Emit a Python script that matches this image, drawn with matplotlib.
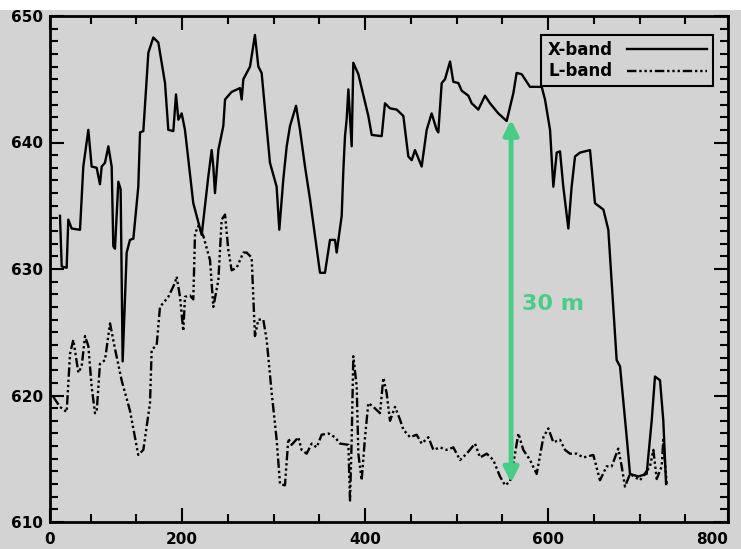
import matplotlib
matplotlib.use("Agg")
import matplotlib.pyplot as plt
from matplotlib.patches import Rectangle
from matplotlib.ticker import MultipleLocator

# X-band profile (solid line)
x_band_x = [66.6, 68.5, 73.9, 75.7, 79.4, 88.5, 92.1, 97.6, 101.2, 106.7,
            110.3, 112.2, 115.8, 119.5, 123.1, 124.9, 126.7, 130.4, 132.9, 135.1,
            139.5, 143.1, 146.8, 152.2, 154.1, 157.7, 163.2, 168.6, 174.1, 181.4,
            185.0, 190.5, 193.4, 196.0, 199.6, 203.2, 212.3, 221.5, 228.7, 232.4,
            234.2, 236.0, 239.7, 245.1, 247.0, 254.2, 263.3, 265.2, 267.0, 274.3,
            279.7, 283.4, 287.0, 296.1, 303.4, 306.3, 310.7, 314.4, 318.0, 324.6,
            328.9, 334.4, 339.9, 350.8, 356.2, 361.7, 367.2, 369.0, 374.5, 376.3,
            378.1, 379.9, 381.8, 385.4, 387.2, 392.7, 403.6, 407.3, 418.2, 421.8,
            427.3, 434.6, 441.9, 447.3, 451.0, 454.6, 461.9, 467.4, 472.8, 478.3,
            480.1, 483.8, 487.4, 492.9, 496.5, 502.0, 505.6, 512.9, 516.6, 523.8,
            531.1, 536.6, 545.7, 554.8, 562.1, 565.7, 571.2, 580.3, 593.1, 596.7,
            602.2, 605.8, 609.5, 613.1, 616.7, 622.2, 625.8, 629.5, 634.9, 640.4,
            645.9, 651.3, 660.5, 665.9, 675.0, 678.7, 686.0, 689.6, 698.7, 707.8,
            713.3, 716.9, 722.4, 726.0, 729.0]
x_band_y = [634.2, 630.2, 630.1, 633.9, 633.2, 633.1, 638.1, 641.0, 638.1, 638.0,
            636.7, 638.1, 638.4, 639.7, 638.1, 631.8, 631.6, 636.9, 636.3, 622.7,
            631.3, 632.3, 632.4, 636.5, 640.8, 640.9, 647.1, 648.3, 647.9, 644.7,
            641.0, 640.9, 643.8, 641.8, 642.3, 641.0, 635.2, 632.7, 637.3, 639.4,
            638.1, 636.0, 639.4, 641.3, 643.4, 644.0, 644.3, 643.4, 645.0, 646.0,
            648.5, 646.0, 645.5, 638.4, 636.5, 633.1, 637.1, 639.7, 641.3, 642.9,
            641.0, 638.1, 635.5, 629.7, 629.7, 632.3, 632.3, 631.3, 634.2, 637.8,
            640.5, 641.8, 644.2, 639.7, 646.3, 645.4, 642.1, 640.6, 640.5, 643.1,
            642.7, 642.6, 642.1, 638.9, 638.6, 639.4, 638.1, 641.0, 642.3, 641.0,
            640.8, 644.7, 645.0, 646.4, 644.8, 644.7, 644.1, 643.7, 643.1, 642.6,
            643.7, 643.1, 642.3, 641.7, 643.9, 645.5, 645.4, 644.4, 644.4, 643.4,
            641.0, 636.5, 639.2, 639.3, 636.5, 633.2, 636.5, 638.9, 639.2, 639.3,
            639.4, 635.2, 634.7, 633.1, 622.8, 622.3, 616.7, 613.8, 613.6, 613.8,
            618.0, 621.5, 621.2, 618.0, 613.0]

# L-band profile (dash-dot-dot line)
l_band_x = [59.3, 66.6, 73.9, 77.6, 81.2, 86.7, 90.3, 94.0, 97.6, 101.2,
            104.9, 106.7, 110.3, 115.8, 121.3, 126.7, 134.0, 143.1, 152.2, 157.7,
            165.0, 166.8, 172.3, 175.9, 185.0, 192.3, 194.1, 197.8, 201.4, 203.2,
            208.7, 212.3, 214.2, 217.8, 223.3, 230.6, 234.2, 239.7, 243.3, 247.0,
            250.6, 254.2, 259.7, 267.0, 270.6, 276.1, 277.9, 279.7, 283.4, 288.8,
            292.5, 298.0, 303.4, 307.1, 312.5, 316.2, 319.8, 327.1, 330.7, 336.2,
            341.7, 347.1, 352.6, 359.9, 367.2, 372.6, 381.8, 383.6, 385.4, 387.2,
            390.9, 392.7, 396.3, 400.0, 403.6, 409.1, 416.4, 420.0, 423.6, 427.3,
            432.8, 438.2, 441.9, 449.2, 456.4, 461.9, 469.2, 474.7, 482.0, 489.2,
            496.5, 503.8, 511.1, 520.2, 525.7, 533.0, 540.2, 547.5, 553.0, 558.5,
            562.1, 567.6, 573.0, 580.3, 587.6, 594.9, 600.3, 605.8, 613.1, 618.6,
            624.0, 631.3, 638.6, 649.5, 656.8, 664.1, 669.6, 676.8, 680.5, 684.1,
            689.6, 700.6, 711.5, 715.1, 718.8, 724.2, 726.0, 729.7]
l_band_y = [619.9, 619.1, 618.7, 623.3, 624.4, 621.8, 622.3, 624.7, 623.9, 620.7,
            618.6, 618.7, 622.5, 622.8, 625.7, 623.7, 621.2, 618.8, 615.3, 615.7,
            619.4, 623.6, 624.0, 627.0, 627.8, 628.9, 629.4, 627.8, 625.1, 627.8,
            627.9, 627.6, 632.8, 633.4, 632.6, 630.7, 627.0, 629.1, 633.9, 634.3,
            631.5, 629.9, 630.1, 631.3, 631.3, 630.9, 627.8, 624.7, 626.0, 626.0,
            624.4, 620.2, 616.5, 613.0, 612.9, 616.6, 616.1, 616.7, 615.7, 615.4,
            616.2, 615.9, 616.9, 617.0, 616.7, 616.2, 616.1, 611.7, 616.5, 623.1,
            620.7, 615.4, 613.3, 616.7, 619.4, 619.1, 618.6, 621.4, 620.2, 618.0,
            619.1, 618.1, 617.3, 616.7, 616.9, 616.2, 616.7, 615.7, 615.9, 615.7,
            615.9, 614.9, 615.4, 616.2, 615.1, 615.4, 614.9, 613.6, 612.9, 613.2,
            614.6, 617.0, 615.7, 614.9, 613.8, 616.7, 617.4, 616.3, 616.5, 615.7,
            615.4, 615.4, 615.1, 615.3, 613.3, 614.4, 614.4, 615.8, 614.4, 612.8,
            613.8, 613.3, 614.4, 615.7, 613.4, 614.4, 616.5, 613.0]

x_ticks = [55.7, 200, 400, 600, 796.7]
x_tick_labels = ["0", "200", "400", "600", "800"]
y_ticks = [610, 620, 630, 640, 650]

# the green 30 m marker between the two profiles
gap_x = 559.6
gap_y = [613.1, 641.8]

gray = "#d3d3d3"
green = "#48cd84"

fig = plt.figure(figsize=(7.41, 5.49), dpi=100, facecolor=gray)
fig.patches.append(Rectangle((0, 1 - 10 / 549), 1, 10 / 549, transform=fig.transFigure,
                             facecolor="white", edgecolor="none", zorder=0))
ax = fig.add_axes([50 / 741, 1 - 522 / 549, 678 / 741, 506 / 549], facecolor=gray)

ax.plot(x_band_x, x_band_y, color="black", lw=1.7, label="X-band")
ax.plot(l_band_x, l_band_y, color="black", lw=1.7,
        linestyle=(0, (4, 1.2, 1, 1.2, 1, 1.2, 1, 1.2)), label="L-band")

ax.annotate("", xy=(gap_x, gap_y[0]), xytext=(gap_x, gap_y[1]),
            arrowprops=dict(arrowstyle="<|-|>", color=green, lw=3.5,
                            mutation_scale=22, shrinkA=0, shrinkB=0))
ax.text(571.6, 627.2, "30 m", color=green, fontsize=16, fontweight="bold",
        ha="left", va="center")

ax.set_xlim(55.7, 796.7)
ax.set_ylim(610, 650)
ax.set_xticks(x_ticks)
ax.set_xticklabels(x_tick_labels)
ax.xaxis.set_minor_locator(MultipleLocator(50))
ax.set_yticks(y_ticks)
ax.yaxis.set_minor_locator(MultipleLocator(1))

ax.tick_params(which="both", direction="in", top=True, right=True, width=1.5,
               labelsize=11, colors="black")
ax.tick_params(which="major", length=10)
ax.tick_params(which="minor", length=6)
ax.tick_params(axis="x", pad=7)
ax.tick_params(axis="y", pad=5)
for lab in ax.get_xticklabels() + ax.get_yticklabels():
    lab.set_fontweight("bold")
# last label sits at the right edge of the figure
ax.get_xticklabels()[-1].set_horizontalalignment("right")
for sp in ax.spines.values():
    sp.set_linewidth(2)

leg = ax.legend(loc="upper right", bbox_to_anchor=(0.978, 0.962), borderaxespad=0,
                markerfirst=False, fancybox=False, framealpha=1, facecolor=gray,
                edgecolor="black", prop={"weight": "bold", "size": 12},
                handlelength=4.8, handletextpad=0.9, labelspacing=0.2, borderpad=0.35)
leg.get_frame().set_linewidth(1.5)

fig.savefig("out.png", dpi=100, facecolor=gray)
